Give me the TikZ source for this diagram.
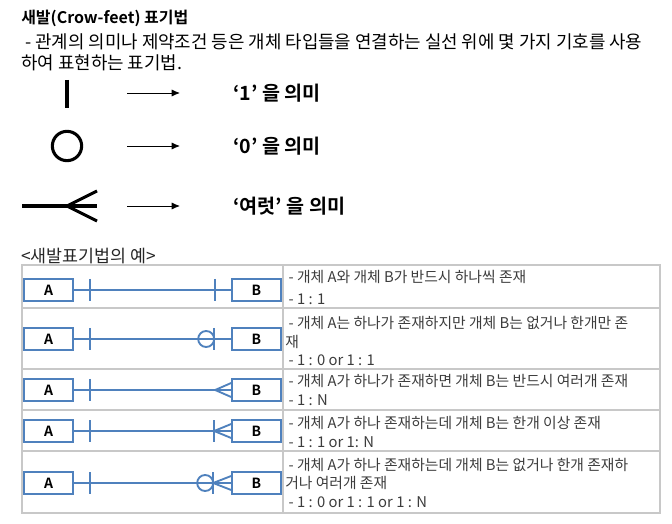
\documentclass[tikz,border=0pt]{standalone}
\usepackage{fontspec}
\setmainfont{Noto Sans CJK KR}[BoldFont={Noto Sans CJK KR Bold}]
\usepackage{tikz}
\usetikzlibrary{arrows.meta,calc}
\definecolor{erblue}{RGB}{79,129,189}
\definecolor{tblgrid}{RGB}{200,200,200}
\definecolor{cellink}{RGB}{60,60,60}
\tikzset{
  ent/.style={
    draw=erblue, line width=1.5pt, inner sep=0pt,
    minimum width=36.5pt, minimum height=17pt,
    font=\fontsize{10.5}{12}\selectfont\bfseries
  },
  rel/.style={draw=erblue, line width=1.4pt},
  symline/.style={draw=black, line width=2.3pt},
  arr/.style={-{Latex[length=2.2mm,width=1.9mm]}, draw=black, line width=0.7pt},
  tblline/.style={draw=tblgrid, line width=0.8pt},
  body/.style={anchor=west, inner sep=0pt, font=\fontsize{13.4}{15}\selectfont},
  meaning/.style={anchor=west, inner sep=0pt, font=\fontsize{14.7}{16}\selectfont\bfseries},
  cell/.style={anchor=west, inner sep=0pt, text=cellink, font=\fontsize{11.1}{13}\selectfont}
}

\begin{document}
\begin{tikzpicture}[x=0.75pt, y=-0.75pt]
  \useasboundingbox (0,0) rectangle (672,524);

  % heading
  \node[body, font=\fontsize{12}{14}\selectfont\bfseries] (title) at (21,18) {새발(Crow-feet) 표기법};
  \node[body] (intro1) at (21,42) {~- 관계의 의미나 제약조건 등은 개체 타입들을 연결하는 실선 위에 몇 가지 기호를 사용};
  \node[body] (intro2) at (21,63) {하여 표현하는 표기법.};

  % legend
  \draw[symline] (67,80) -- (67,108);
  \node[circle, draw, line width=2.3pt, inner sep=0pt, minimum size=22pt] (zero) at (67,146) {};
  \draw[symline] (22,206) -- (97,206);
  \draw[symline] (97,191) -- (67,206) -- (97,221);

  \coordinate (s1) at (127,93);  \coordinate (e1) at (180,93);
  \coordinate (s2) at (127,146); \coordinate (e2) at (180,146);
  \coordinate (s3) at (127,206); \coordinate (e3) at (180,206);
  \draw[arr] (s1) -- (e1);
  \draw[arr] (s2) -- (e2);
  \draw[arr] (s3) -- (e3);
  \node[meaning] (one) at (233,93) {‘1’ 을 의미};
  \node[meaning] (nil) at (233,146) {‘0’ 을 의미};
  \node[meaning] (many) at (233,206) {‘여럿’ 을 의미};

  \node[body, font=\fontsize{13}{14}\selectfont, text=black!85] (extitle) at (21,256) {<새발표기법의 예>};

  % table
  \draw[tblline] (22,265) rectangle (660,513);
  \foreach \y in {308,369,410,451}
    \draw[tblline] (22,\y) -- (660,\y);
  \draw[tblline] (283,265) -- (283,513);

  % 1 : 1
  \node[ent] (a1) at (48.5,290) {A};
  \node[ent] (b1) at (256.5,290) {B};
  \draw[rel] (a1) -- (b1);
  \draw[rel] ($(a1.east)+(16,-11)$) -- ++(0,22);
  \draw[rel] ($(b1.west)+(-16,-11)$) -- ++(0,22);

  % 1 : 0 or 1 : 1
  \node[ent] (a2) at (48.5,339) {A};
  \node[ent] (b2) at (256.5,339) {B};
  \draw[rel] (a2) -- (b2);
  \draw[rel] ($(a2.east)+(16,-11)$) -- ++(0,22);
  \draw[rel] ($(b2.west)+(-25,0)$) circle[radius=6pt];
  \draw[rel] ($(b2.west)+(-17,-11)$) -- ++(0,22);

  % 1 : N
  \node[ent] (a3) at (48.5,390) {A};
  \node[ent] (b3) at (256.5,390) {B};
  \draw[rel] (a3) -- (b3);
  \draw[rel] ($(a3.east)+(16,-11)$) -- ++(0,22);
  \draw[rel] ($(b3.west)+(0,-7)$) -- ($(b3.west)+(-16,0)$) -- ($(b3.west)+(0,7)$);

  % 1 : 1 or 1 : N
  \node[ent] (a4) at (48.5,431) {A};
  \node[ent] (b4) at (256.5,431) {B};
  \draw[rel] (a4) -- (b4);
  \draw[rel] ($(a4.east)+(16,-11)$) -- ++(0,22);
  \draw[rel] ($(b4.west)+(-17,-11)$) -- ++(0,22);
  \draw[rel] ($(b4.west)+(0,-7)$) -- ($(b4.west)+(-17,0)$) -- ($(b4.west)+(0,7)$);

  % 1 : 0 or 1 : 1 or 1 : N
  \node[ent] (a5) at (48.5,483) {A};
  \node[ent] (b5) at (256.5,483) {B};
  \draw[rel] (a5) -- (b5);
  \draw[rel] ($(a5.east)+(16,-11)$) -- ++(0,22);
  \draw[rel] ($(b5.west)+(-26,0)$) circle[radius=6pt];
  \draw[rel] ($(b5.west)+(-18,-11)$) -- ++(0,22);
  \draw[rel] ($(b5.west)+(0,-7)$) -- ($(b5.west)+(-18,0)$) -- ($(b5.west)+(0,7)$);

  % descriptions
  \node[cell] (d1a) at (285,277) {~- 개체 A와 개체 B가 반드시 하나씩 존재};
  \node[cell] (d1b) at (285,299) {~- 1 : 1};
  \node[cell] (d2a) at (285,323) {~- 개체 A는 하나가 존재하지만 개체 B는 없거나 한개만 존};
  \node[cell] (d2b) at (285,342) {재};
  \node[cell] (d2c) at (285,360) {~- 1 : 0 or 1 : 1};
  \node[cell] (d3a) at (285,381) {~- 개체 A가 하나가 존재하면 개체 B는 반드시 여러개 존재};
  \node[cell] (d3b) at (285,400) {~- 1 : N};
  \node[cell] (d4a) at (285,423) {~- 개체 A가 하나 존재하는데 개체 B는 한개 이상 존재};
  \node[cell] (d4b) at (285,442) {~- 1 : 1 or 1: N};
  \node[cell] (d5a) at (285,465) {~- 개체 A가 하나 존재하는데 개체 B는 없거나 한개 존재하};
  \node[cell] (d5b) at (285,483) {거나 여러개 존재};
  \node[cell] (d5c) at (285,502) {~- 1 : 0 or 1 : 1 or 1 : N};
\end{tikzpicture}
\end{document}
